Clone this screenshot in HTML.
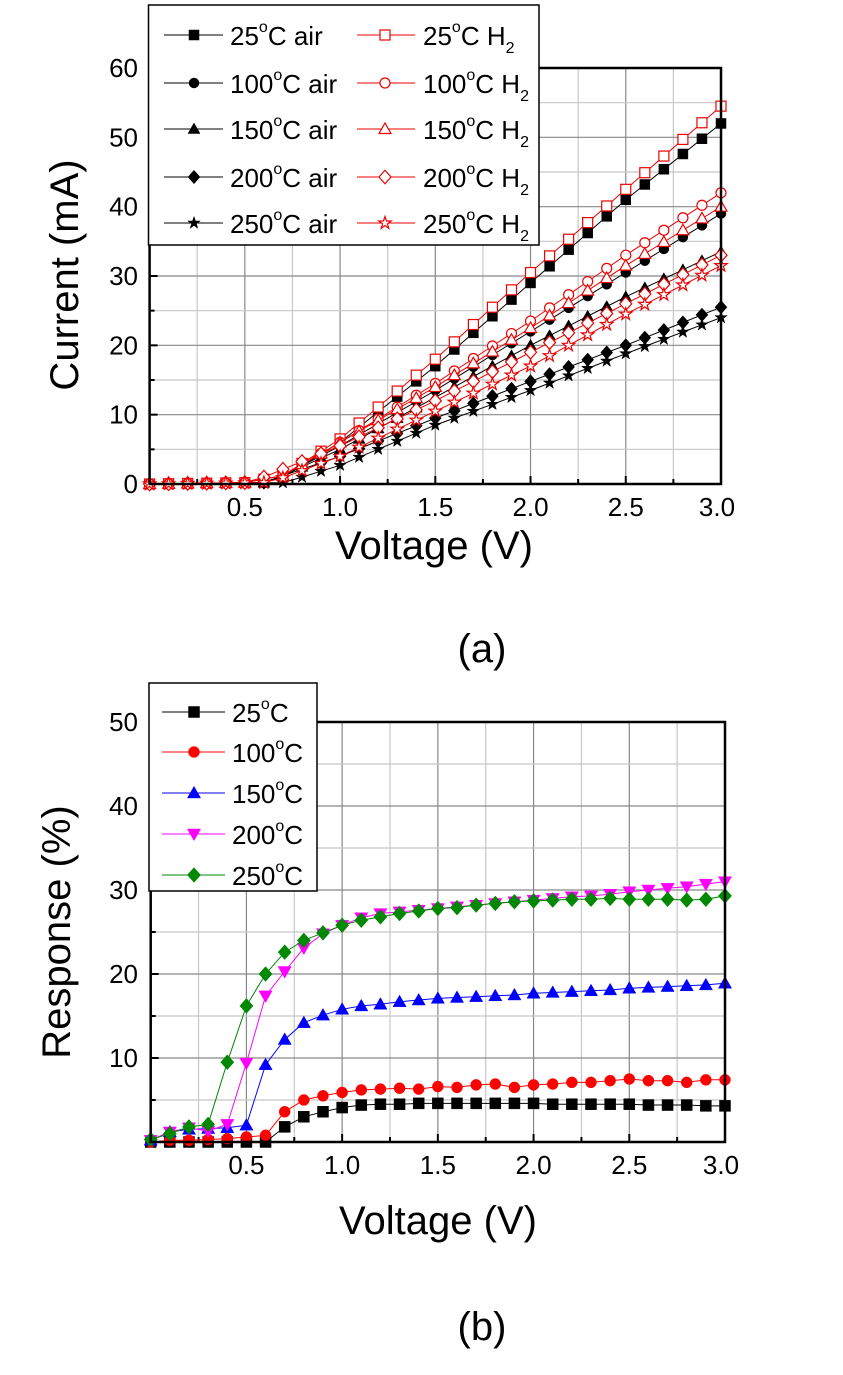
<!DOCTYPE html>
<html><head><meta charset="utf-8">
<style>
html,body{margin:0;padding:0;background:#fff;}
svg{display:block;font-family:"Liberation Sans",Arial,sans-serif;}
</style></head>
<body>
<svg id="s" width="843" height="1375" viewBox="0 0 843 1375" xmlns="http://www.w3.org/2000/svg">
<rect width="843" height="1375" fill="#fff"/>
<g id="g"></g>
</svg>
<script>
const NS="http://www.w3.org/2000/svg";
const G=document.getElementById('g');
function el(t,a,txt){const e=document.createElementNS(NS,t);for(const k in a)e.setAttribute(k,a[k]);if(txt!==undefined)e.textContent=txt;G.appendChild(e);return e;}
function interp(kn,v){if(v<=kn[0][0])return kn[0][1];for(let i=1;i<kn.length;i++){if(v<=kn[i][0]){const [x0,y0]=kn[i-1],[x1,y1]=kn[i];return y0+(y1-y0)*(v-x0)/(x1-x0);}}return kn[kn.length-1][1];}
function marker(shape,x,y,col,fill,s){
  s=s||5;const f=fill?col:'#fff';
  const st={fill:f,stroke:col,'stroke-width':fill?0.5:1.2};
  if(shape==='sq')el('rect',Object.assign({x:x-s,y:y-s,width:2*s,height:2*s},st));
  else if(shape==='ci')el('circle',Object.assign({cx:x,cy:y,r:s},st));
  else if(shape==='tu')el('polygon',Object.assign({points:`${x},${y-s*1.2} ${x-s*1.2},${y+s*0.9} ${x+s*1.2},${y+s*0.9}`},st));
  else if(shape==='td')el('polygon',Object.assign({points:`${x},${y+s*1.2} ${x-s*1.2},${y-s*0.9} ${x+s*1.2},${y-s*0.9}`},st));
  else if(shape==='di')el('polygon',Object.assign({points:`${x},${y-s*1.35} ${x+s*1.2},${y} ${x},${y+s*1.35} ${x-s*1.2},${y}`},st));
  else if(shape==='st'){let p=[];for(let i=0;i<10;i++){const r=i%2?s*0.5:s*1.3;const a=-Math.PI/2+i*Math.PI/5;p.push((x+r*Math.cos(a)).toFixed(1)+','+(y+r*Math.sin(a)).toFixed(1));}el('polygon',Object.assign({points:p.join(' ')},st));}
}
function frame(x0,x1,y0,y1,ymax,ymaj,ymin){
  const X=v=>x0+(x1-x0)*v/3, Y=v=>y0-(y0-y1)*v/ymax;
  for(let v=0.25;v<3;v+=0.25){const major=Math.abs(v*2-Math.round(v*2))<1e-6;el('line',{x1:X(v),x2:X(v),y1:y0,y2:y1,stroke:major?'#888':'#c8c8c8','stroke-width':1.2});}
  for(let v=ymin;v<ymax;v+=ymin){const major=Math.abs(v/ymaj-Math.round(v/ymaj))<1e-6;el('line',{x1:x0,x2:x1,y1:Y(v),y2:Y(v),stroke:major?'#888':'#c8c8c8','stroke-width':1.2});}
  for(let v=0.25;v<3;v+=0.25){const major=Math.abs(v*2-Math.round(v*2))<1e-6;el('line',{x1:X(v),x2:X(v),y1:y0,y2:y0-(major?8:5),stroke:'#000','stroke-width':2});}
  for(let v=ymin;v<ymax;v+=ymin){const major=Math.abs(v/ymaj-Math.round(v/ymaj))<1e-6;el('line',{x1:x0,x2:x0+(major?8:5),y1:Y(v),y2:Y(v),stroke:'#000','stroke-width':2});}
  return [X,Y];
}
function border(x0,x1,y0,y1){el('rect',{x:x0,y:y1,width:x1-x0,height:y0-y1,fill:'none',stroke:'#000','stroke-width':2.5});}
function series(X,Y,vals,col,shape,fill,s){
  const pts=vals.map((v,i)=>X(i*0.1).toFixed(1)+','+Y(v).toFixed(1));
  el('polyline',{points:pts.join(' '),fill:'none',stroke:col,'stroke-width':1});
  vals.forEach((v,i)=>marker(shape,X(i*0.1),Y(v),col,fill,s));
}
// ---------- chart a ----------
{
const x0=149.6,x1=721,y0=484,y1=68;
const [X,Y]=frame(x0,x1,y0,y1,60,10,5);
const defs=[
 ['#000','sq',true,[[0,0],[0.6,0.2],[0.7,1],[1.0,6],[1.5,17],[2.0,29],[2.5,41],[3.0,52]]],
 ['#000','ci',true,[[0,0],[0.6,0.2],[0.7,1.2],[1.0,5.5],[1.5,13.5],[2.0,22],[2.5,30.5],[3.0,39]]],
 ['#000','tu',true,[[0,0],[0.6,0.2],[0.7,1.2],[1.0,5],[1.5,12.5],[2.0,20],[2.5,27],[3.0,33.5]]],
 ['#000','di',true,[[0,0],[0.6,0.2],[0.7,1.2],[1.0,4],[1.5,9.5],[2.0,14.8],[2.5,20],[3.0,25.5]]],
 ['#000','st',true,[[0,0],[0.7,0.2],[0.8,1],[1.0,2.7],[1.5,8.5],[2.0,13.5],[2.5,18.8],[3.0,24]]],
 ['#e00','sq',false,[[0,0],[0.5,0.2],[0.7,1.2],[1.0,6.5],[1.5,18],[2.0,30.5],[2.5,42.5],[3.0,54.5]]],
 ['#e00','ci',false,[[0,0],[0.5,0.2],[0.7,1.2],[1.0,6],[1.5,14.5],[2.0,23.5],[2.5,33],[3.0,42]]],
 ['#e00','tu',false,[[0,0],[0.5,0.2],[0.7,1.2],[1.0,6],[1.5,14],[2.0,22.5],[2.5,31.5],[3.0,40]]],
 ['#e00','di',false,[[0,0],[0.5,0.2],[0.6,1],[1.0,5.5],[1.5,12],[2.0,19],[2.5,26],[3.0,33]]],
 ['#e00','st',false,[[0,0],[0.6,0.2],[0.7,0.9],[1.0,4],[1.5,10.5],[2.0,17],[2.5,24.5],[3.0,31.5]]],
];
defs.forEach(d=>{const vals=[];for(let i=0;i<=30;i++)vals.push(interp(d[3],i*0.1));series(X,Y,vals,d[0],d[1],d[2],5);});
border(x0,x1,y0,y1);
[0,10,20,30,40,50,60].forEach(v=>el('text',{x:138,y:Y(v)+9,'font-size':26,'text-anchor':'end'},String(v)));
['0.5','1.0','1.5','2.0','2.5','3.0'].forEach((t,i)=>el('text',{x:X((i+1)*0.5)+(i==5?-4:0),y:516,'font-size':26,'text-anchor':'middle'},t));
el('text',{x:434,y:559,'font-size':40,'text-anchor':'middle'},'Voltage (V)');
el('text',{x:0,y:0,'font-size':40,'text-anchor':'middle',transform:'translate(78,275) rotate(-90)'},'Current (mA)');
el('text',{x:482,y:662,'font-size':40,'text-anchor':'middle'},'(a)');
el('rect',{x:148.5,y:5,width:390.5,height:240,fill:'#fff',stroke:'#000','stroke-width':1.5});
const rows=[35,83,129,177,223],temps=['25','100','150','200','250'],sh=['sq','ci','tu','di','st'];
rows.forEach((y,i)=>{
 el('line',{x1:164,x2:223,y1:y,y2:y,stroke:'#000','stroke-width':1});marker(sh[i],194,y,'#000',true,5);
 const t=el('text',{x:230,y:y+10,'font-size':26});t.innerHTML=`${temps[i]}<tspan font-size="16" dy="-13">o</tspan><tspan dy="13">C air</tspan>`;
 el('line',{x1:357,x2:415,y1:y,y2:y,stroke:'#e00','stroke-width':1});marker(sh[i],385,y,'#e00',false,5);
 const u=el('text',{x:423,y:y+10,'font-size':26});u.innerHTML=`${temps[i]}<tspan font-size="16" dy="-13">o</tspan><tspan dy="13">C H</tspan><tspan font-size="16" dy="8">2</tspan>`;
});
}
// ---------- chart b ----------
{
const x0=150.7,x1=725,y0=1142,y1=722;
const [X,Y]=frame(x0,x1,y0,y1,50,10,5);
const d25=[0,0,0,0,0,0,0,1.8,3,3.6,4.1,4.4,4.5,4.5,4.6,4.6,4.6,4.6,4.6,4.6,4.6,4.5,4.5,4.5,4.5,4.5,4.4,4.4,4.4,4.3,4.3];
const d100=[0,0.2,0.2,0.3,0.4,0.6,0.8,3.6,5,5.5,5.9,6.2,6.3,6.4,6.3,6.6,6.5,6.8,6.9,6.5,6.8,6.9,7.1,7.1,7.3,7.5,7.3,7.3,7.1,7.4,7.4];
const d150=[0.2,1.2,1.5,1.6,1.7,2,9.2,12.2,14.2,15.1,15.8,16.2,16.4,16.7,16.9,17.1,17.2,17.3,17.4,17.5,17.7,17.8,17.9,18,18.1,18.3,18.4,18.5,18.6,18.7,18.9];
const d200=[0.2,1.2,1.7,1.3,2.1,9.4,17.4,20.3,23.1,24.8,25.8,26.7,27.2,27.4,27.6,27.8,28,28.2,28.4,28.6,28.8,29,29.2,29.3,29.5,29.8,30,30.2,30.4,30.7,31];
const d250=[0.3,1,1.8,2.1,9.5,16.2,20,22.6,24,24.9,25.8,26.4,26.8,27.2,27.5,27.8,27.9,28.2,28.4,28.6,28.7,28.8,28.9,28.9,29,28.9,28.9,28.9,28.8,28.9,29.3];
const S=[[d25,'#000','sq'],[d100,'#f00','ci'],[d150,'#00f','tu'],[d200,'#f0f','td'],[d250,'#080','di']];
S.forEach(s=>series(X,Y,s[0],s[1],s[2],true,5.5));
border(x0,x1,y0,y1);
[10,20,30,40,50].forEach(v=>el('text',{x:138,y:Y(v)+9,'font-size':26,'text-anchor':'end'},String(v)));
['0.5','1.0','1.5','2.0','2.5','3.0'].forEach((t,i)=>el('text',{x:X((i+1)*0.5)+(i==5?-4:0),y:1174,'font-size':26,'text-anchor':'middle'},t));
el('text',{x:438,y:1234,'font-size':40,'text-anchor':'middle'},'Voltage (V)');
el('text',{x:0,y:0,'font-size':40,'text-anchor':'middle',transform:'translate(70,932) rotate(-90)'},'Response (%)');
el('text',{x:482,y:1340,'font-size':40,'text-anchor':'middle'},'(b)');
el('rect',{x:149,y:683,width:168,height:208,fill:'#fff',stroke:'#000','stroke-width':1.5});
const rows=[712,752,793,834,875],temps=['25','100','150','200','250'];
rows.forEach((y,i)=>{
 el('line',{x1:162,x2:225,y1:y,y2:y,stroke:S[i][1],'stroke-width':1});marker(S[i][2],194,y,S[i][1],true,5.5);
 const t=el('text',{x:232,y:y+10,'font-size':26});t.innerHTML=`${temps[i]}<tspan font-size="16" dy="-13">o</tspan><tspan dy="13">C</tspan>`;
});
}
</script>
</body></html>
